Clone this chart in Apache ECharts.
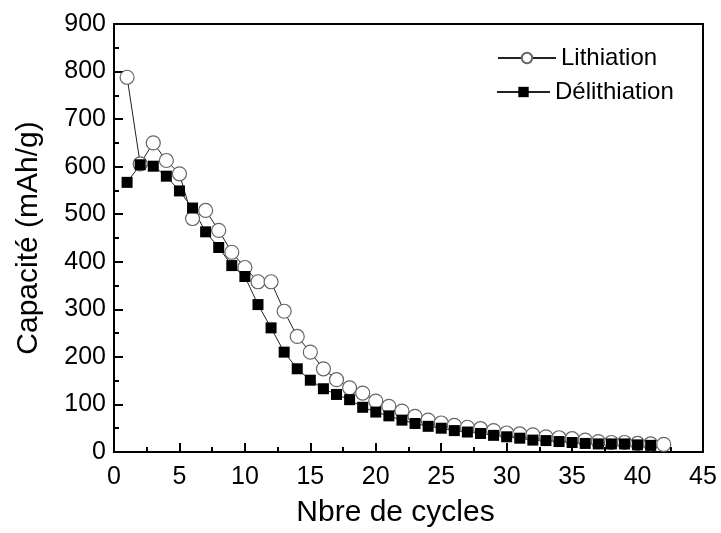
<!DOCTYPE html>
<html>
<head>
<meta charset="utf-8">
<script src="https://cdn.jsdelivr.net/npm/echarts@6/dist/echarts.min.js"></script>
<style>html,body{margin:0;padding:0;background:#fff}#c{width:721px;height:533px}</style>
</head>
<body>
<div id="c"></div>
<script>
var lithCycles = [1,2,3,4,5,6,7,8,9,10,11,12,13,14,15,16,17,18,19,20,21,22,23,24,25,26,27,28,29,30,31,32,33,34,35,36,37,38,39,40,41,42];
var lithValues = [788,606,650,613,585,491,508,466,420,388,358,358,296,243,210,175,152,135,124,107,96,86,75,67,61,56,52,49,45,40,38,36,32,30,28,25,22,20,20,18,17,16];
var delithCycles = [1,2,3,4,5,6,7,8,9,10,11,12,13,14,15,16,17,18,19,20,21,22,23,24,25,26,27,28,29,30,31,32,33,34,35,36,37,38,39,40,41];
var delithValues = [567,604,601,580,549,513,463,430,392,369,310,261,210,175,151,133,121,110,94,84,76,67,60,54,50,45,42,39,35,32,29,25,24,22,20,18,17,17,17,15,14];
var xTicks = {min:0, max:45, interval:5};
var yTicks = {min:0, max:900, interval:100};

function pairs(xs, ys){ return xs.map(function(x,i){ return [x, ys[i]]; }); }

var FONT = 'Liberation Sans, Arial, sans-serif';
var chart = echarts.init(document.getElementById('c'), null, {renderer:'canvas'});
chart.setOption({
  animation:false,
  backgroundColor:'#fff',
  grid:{left:114, right:18, top:24, bottom:78, show:true, borderColor:'#000', borderWidth:2, backgroundColor:'transparent'},
  legend:[
    {data:['Lithiation'], left:492, top:41, itemWidth:58, itemHeight:13,
     textStyle:{fontFamily:FONT, fontSize:24, color:'#000'}},
    {data:['Délithiation'], left:491, top:75, itemWidth:53, itemHeight:13,
     textStyle:{fontFamily:FONT, fontSize:24, color:'#000'}}
  ],
  xAxis:{type:'value', min:xTicks.min, max:xTicks.max, interval:xTicks.interval,
    name:'Nbre de cycles', nameLocation:'middle', nameGap:46,
    nameTextStyle:{fontFamily:FONT, fontSize:30, color:'#000', padding:[0,26,0,0]},
    axisLine:{lineStyle:{color:'#000', width:2}},
    axisTick:{inside:true, length:9, lineStyle:{color:'#000', width:2}},
    minorTick:{show:true, splitNumber:2, length:5, lineStyle:{color:'#000', width:2}},
    axisLabel:{fontFamily:FONT, fontSize:25, color:'#000', margin:13},
    splitLine:{show:false}},
  yAxis:{type:'value', min:yTicks.min, max:yTicks.max, interval:yTicks.interval,
    name:'Capacité (mAh/g)', nameLocation:'middle', nameGap:70, nameRotate:90,
    nameTextStyle:{fontFamily:FONT, fontSize:30, color:'#000'},
    axisLine:{lineStyle:{color:'#000', width:2}},
    axisTick:{inside:true, length:9, lineStyle:{color:'#000', width:2}},
    minorTick:{show:true, splitNumber:2, length:5, lineStyle:{color:'#000', width:2}},
    axisLabel:{fontFamily:FONT, fontSize:25, color:'#000', margin:8},
    splitLine:{show:false}},
  series:[
    {name:'Lithiation', type:'line', data:pairs(lithCycles, lithValues),
     symbol:'circle', symbolSize:14, showAllSymbol:true,
     lineStyle:{color:'#222', width:1},
     itemStyle:{color:'#fff', borderColor:'#666', borderWidth:1.2}},
    {name:'Délithiation', type:'line', data:pairs(delithCycles, delithValues),
     symbol:'rect', symbolSize:11, showAllSymbol:true,
     lineStyle:{color:'#222', width:1},
     itemStyle:{color:'#000', borderColor:'#000', borderWidth:0}}
  ]
});
</script>
</body>
</html>
